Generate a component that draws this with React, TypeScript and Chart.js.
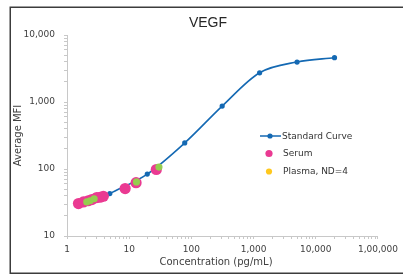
import React, { useEffect, useRef } from 'react';
import { Chart, registerables } from 'chart.js';

Chart.register(...registerables);

const standardConc = [4.88, 19.53, 78.13, 312.5, 1250, 5000, 20000];
const standardMFI = [43, 84, 245, 868, 2730, 3950, 4580];
const serumConc = [1.53, 1.84, 2.19, 2.51, 3.01, 3.4, 3.84, 8.61, 12.9, 27.3];
const serumMFI = [30.5, 32.2, 33.6, 35, 37.5, 37.9, 39.2, 51.1, 62.4, 98.3];
const plasmaConc = [2.08, 2.35, 2.73, 13.1, 30.1];
const plasmaMFI = [32.2, 33.6, 36, 64.1, 107];
const xTickLabels = ['1', '10', '100', '1,000', '10,000', '1,00,000'];
const yTickLabels = ['10', '100', '1,000', '10,000'];
const seriesNames = ['Standard Curve', 'Serum', 'Plasma, ND=4'];
const chartTitle = 'VEGF';
const xTitle = 'Concentration (pg/mL)';
const yTitle = 'Average MFI';

const BLUE = '#1469b3';
const PINK = '#ea3a92';
const GREEN = '#95cd4f';
const YELLOW = '#ffc81e';
const TEXT = '#404040';
const FONT = '"DejaVu Sans", Verdana, sans-serif';

function toPoints(xs: number[], ys: number[]) {
  return xs.map((x, i) => ({ x, y: ys[i] }));
}

function decadeTicks(scale: any) {
  const ticks: { value: number }[] = [];
  const lo = Math.floor(Math.log10(scale.min));
  const hi = Math.ceil(Math.log10(scale.max));
  for (let e = lo; e <= hi; e++) {
    for (let m = 1; m <= 9; m++) {
      const v = m * Math.pow(10, e);
      if (v >= scale.min * 0.9999 && v <= scale.max * 1.0001) ticks.push({ value: v });
    }
  }
  scale.ticks = ticks;
}

function powLabel(labels: string[], offset: number) {
  return (value: any) => {
    const e = Math.log10(Number(value));
    const r = Math.round(e);
    if (Math.abs(e - r) < 1e-9) return labels[r - offset] ?? '';
    return '';
  };
}

const decorPlugin = {
  id: 'decor',
  afterDraw(chart: any) {
    const ctx = chart.ctx;
    ctx.save();
    // frame
    ctx.strokeStyle = '#3c3c3c';
    ctx.lineWidth = 1.5;
    ctx.beginPath();
    ctx.moveTo(403, 7.25);
    ctx.lineTo(10.25, 7.25);
    ctx.lineTo(10.25, 273.25);
    ctx.lineTo(403, 273.25);
    ctx.stroke();
    // title
    ctx.fillStyle = '#262626';
    ctx.font = '14px "Liberation Sans", Arial, sans-serif';
    ctx.textAlign = 'center';
    ctx.textBaseline = 'middle';
    ctx.fillText(chartTitle, 208, 23);
    // x axis title
    ctx.fillStyle = TEXT;
    ctx.font = '10px ' + FONT;
    ctx.fillText(xTitle, 216, 262);
    // legend
    const ds = chart.data.datasets;
    ctx.font = '9px ' + FONT;
    ctx.textAlign = 'left';
    ctx.fillStyle = '#333333';
    // standard curve
    ctx.strokeStyle = ds[0].borderColor;
    ctx.lineWidth = 1.5;
    ctx.beginPath();
    ctx.moveTo(260, 136);
    ctx.lineTo(281, 136);
    ctx.stroke();
    ctx.fillStyle = ds[0].pointBackgroundColor;
    ctx.beginPath();
    ctx.arc(270, 136, 2.6, 0, Math.PI * 2);
    ctx.fill();
    ctx.fillStyle = '#333333';
    ctx.fillText(seriesNames[0], 282, 136.5);
    // serum
    ctx.fillStyle = ds[1].pointBackgroundColor;
    ctx.beginPath();
    ctx.arc(269, 153.5, 3.6, 0, Math.PI * 2);
    ctx.fill();
    ctx.fillStyle = '#333333';
    ctx.fillText(seriesNames[1], 283, 154);
    // plasma
    ctx.fillStyle = YELLOW;
    ctx.beginPath();
    ctx.arc(269, 171.5, 3.1, 0, Math.PI * 2);
    ctx.fill();
    ctx.fillStyle = '#333333';
    ctx.fillText(seriesNames[2], 283, 172);
    ctx.restore();
  },
};

export default function App() {
  const ref = useRef<HTMLCanvasElement>(null);

  useEffect(() => {
    if (!ref.current) return;
    const chart = new Chart(ref.current, {
      type: 'scatter',
      data: {
        datasets: [
          {
            label: seriesNames[0],
            data: toPoints(standardConc, standardMFI),
            showLine: true,
            borderColor: BLUE,
            backgroundColor: BLUE,
            pointBackgroundColor: BLUE,
            pointBorderWidth: 0,
            pointRadius: 2.6,
            borderWidth: 1.6,
            cubicInterpolationMode: 'monotone',
            order: 3,
          } as any,
          {
            label: seriesNames[1],
            data: toPoints(serumConc, serumMFI),
            showLine: false,
            backgroundColor: PINK,
            pointBackgroundColor: PINK,
            borderColor: PINK,
            pointBorderWidth: 0,
            pointRadius: 5.6,
            order: 2,
          } as any,
          {
            label: seriesNames[2],
            data: toPoints(plasmaConc, plasmaMFI),
            showLine: false,
            backgroundColor: GREEN,
            pointBackgroundColor: GREEN,
            borderColor: GREEN,
            pointBorderWidth: 0,
            pointRadius: 3.6,
            order: 1,
          } as any,
        ],
      },
      options: {
        responsive: false,
        animation: false,
        layout: { padding: { left: 0, right: 23, top: 35, bottom: 0 } },
        plugins: {
          legend: { display: false },
          title: { display: false },
          tooltip: { enabled: false },
        },
        scales: {
          x: {
            type: 'logarithmic',
            min: 1,
            max: 100000,
            afterBuildTicks: decadeTicks,
            afterFit: (s: any) => {
              s.height = 40;
            },
            grid: {
              display: true,
              drawOnChartArea: false,
              drawTicks: true,
              tickLength: 3,
              color: '#c8c8c8',
            },
            border: { display: true, color: '#c8c8c8', width: 1 },
            ticks: {
              autoSkip: false,
              maxRotation: 0,
              padding: 5,
              color: TEXT,
              font: { family: FONT, size: 9 },
              callback: powLabel(xTickLabels, 0),
            },
            title: { display: false },
          },
          y: {
            type: 'logarithmic',
            min: 10,
            max: 10000,
            afterBuildTicks: decadeTicks,
            afterFit: (s: any) => {
              s.width = 67;
            },
            grid: {
              display: true,
              drawOnChartArea: false,
              drawTicks: true,
              tickLength: 3,
              color: '#c8c8c8',
            },
            border: { display: true, color: '#c8c8c8', width: 1 },
            ticks: {
              autoSkip: false,
              padding: 9,
              color: TEXT,
              font: { family: FONT, size: 9 },
              callback: powLabel(yTickLabels, 1),
            },
            title: {
              display: true,
              text: yTitle,
              color: TEXT,
              font: { family: FONT, size: 10 },
              padding: { top: 12, bottom: 0 },
            },
          },
        },
      } as any,
      plugins: [decorPlugin],
    });
    return () => chart.destroy();
  }, []);

  return (
    <div style={{ position: 'absolute', left: 0, top: 0, width: 403, height: 276, background: '#fff' }}>
      <canvas ref={ref} width={403} height={276} style={{ display: 'block' }} />
    </div>
  );
}
